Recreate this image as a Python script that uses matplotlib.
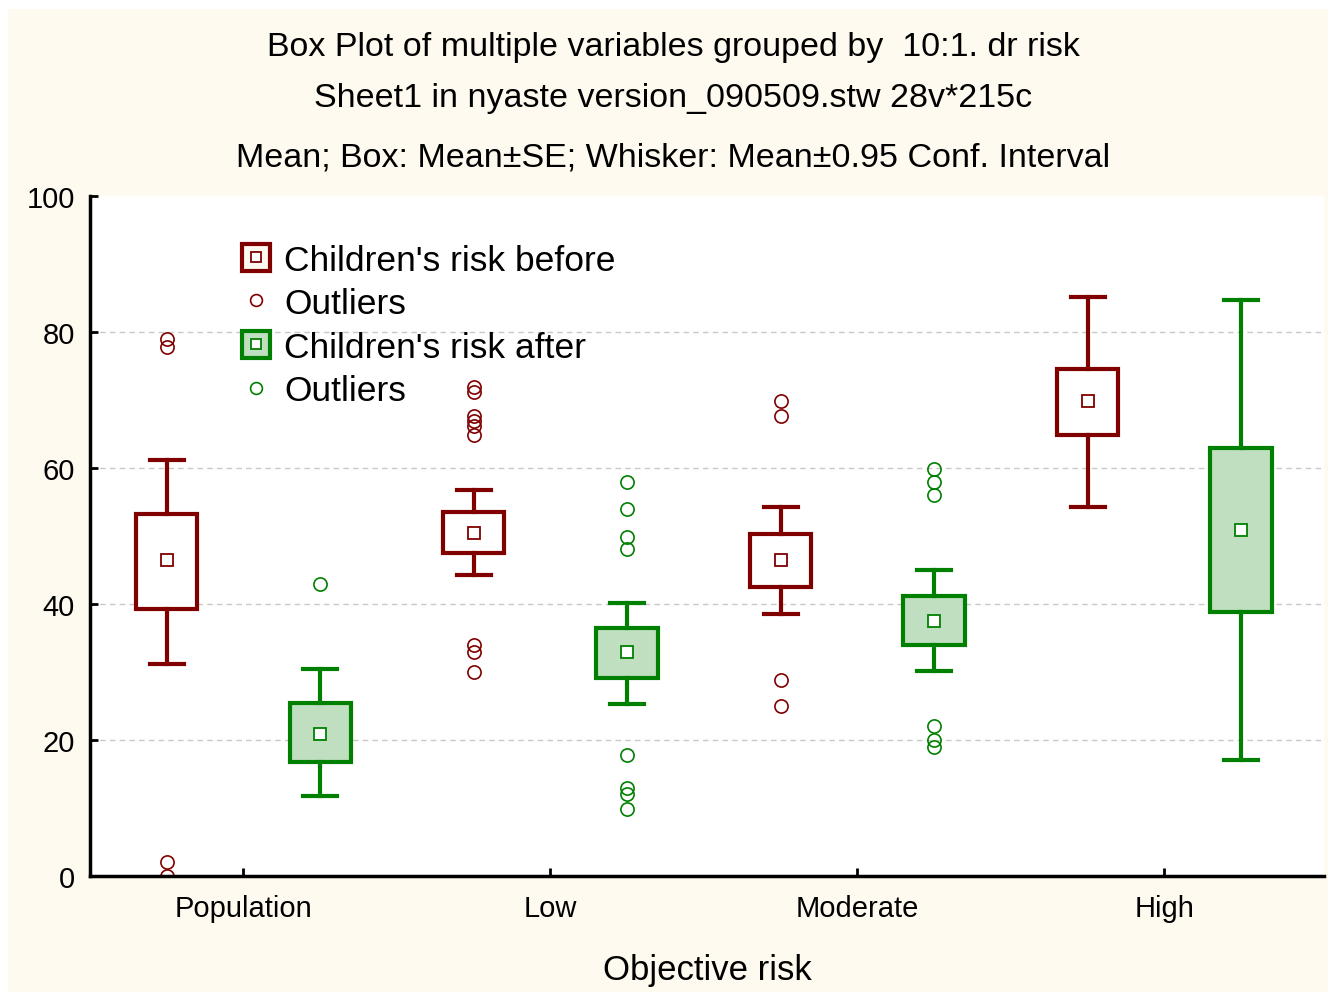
import matplotlib
matplotlib.use("Agg")
import matplotlib.pyplot as plt
from matplotlib.patches import Rectangle, Patch
from matplotlib.lines import Line2D
from matplotlib.legend_handler import HandlerTuple

# ---------------- data ----------------
categories = ["Population", "Low", "Moderate", "High"]

before_mean = [46.4, 50.5, 46.4, 69.8]
before_se_lo = [39.2, 47.5, 42.5, 64.9]
before_se_hi = [53.3, 53.6, 50.3, 74.6]
before_ci_lo = [31.2, 44.3, 38.5, 54.2]
before_ci_hi = [61.2, 56.7, 54.3, 85.1]
before_outliers = [
    [79.0, 77.8, 2.1, 0.0],
    [71.9, 71.2, 67.6, 66.9, 66.2, 64.9, 33.9, 33.0, 30.0],
    [69.8, 67.7, 28.8, 25.0],
    [],
]

after_mean = [20.9, 33.0, 37.5, 50.9]
after_se_lo = [16.7, 29.1, 34.0, 38.8]
after_se_hi = [25.4, 36.5, 41.2, 63.0]
after_ci_lo = [11.7, 25.3, 30.1, 17.1]
after_ci_hi = [30.4, 40.2, 45.0, 84.7]
after_outliers = [
    [43.0],
    [58.0, 53.9, 49.8, 48.1, 17.8, 13.0, 12.1, 9.9],
    [59.9, 58.0, 56.0, 22.1, 20.0, 19.0],
    [],
]

yticks = [0, 20, 40, 60, 80, 100]

title_lines = [
    "Box Plot of multiple variables grouped by  10:1. dr risk",
    "Sheet1 in nyaste version_090509.stw 28v*215c",
    "Mean; Box: Mean\u00b1SE; Whisker: Mean\u00b10.95 Conf. Interval",
]
series_labels = ["Children's risk before", "Outliers", "Children's risk after", "Outliers"]
xlabel = "Objective risk"

# ---------------- style ----------------
RED = "#800000"
GREEN = "#008000"
GREEN_FILL = "#c0dfc0"
CREAM = "#fefaef"
FONT = ["Liberation Sans", "DejaVu Sans"]
plt.rcParams["font.family"] = FONT

W, H = 1328, 995
fig = plt.figure(figsize=(W / 100, H / 100), dpi=100, facecolor="white")
fig.patches.append(Rectangle((8 / W, 2 / H), (W - 8) / W, (H - 12) / H,
                             transform=fig.transFigure, facecolor=CREAM,
                             edgecolor="none", zorder=-10))

ax = fig.add_axes([90 / W, (H - 877) / H, (1324 - 90) / W, (877 - 197) / H])
ax.set_facecolor("white")


def stats(mean, lo, hi, clo, chi, outl):
    out = []
    for m, a, b, c, d, f in zip(mean, lo, hi, clo, chi, outl):
        out.append(dict(med=m, mean=m, q1=a, q3=b, whislo=c, whishi=d, fliers=f))
    return out


def draw(st, positions, color, face):
    ax.bxp(st, positions=positions, widths=0.2, capwidths=0.11,
           patch_artist=True, showmeans=True, manage_ticks=False,
           boxprops=dict(facecolor=face, edgecolor=color, linewidth=3),
           whiskerprops=dict(color=color, linewidth=3),
           capprops=dict(color=color, linewidth=3),
           medianprops=dict(linewidth=0, color="none"),
           meanprops=dict(marker="s", markersize=8, markerfacecolor="white",
                          markeredgecolor=color, markeredgewidth=1.3),
           flierprops=dict(marker="o", markersize=9.5, markerfacecolor="none",
                           markeredgecolor=color, markeredgewidth=1.2,
                           linestyle="none"))


idx = list(range(len(categories)))
draw(stats(before_mean, before_se_lo, before_se_hi, before_ci_lo, before_ci_hi,
           before_outliers), [i - 0.25 for i in idx], RED, "white")
draw(stats(after_mean, after_se_lo, after_se_hi, after_ci_lo, after_ci_hi,
           after_outliers), [i + 0.25 for i in idx], GREEN, GREEN_FILL)

ax.set_xlim(-0.5, 3.52)
ax.set_ylim(0, 100)
ax.set_xticks(idx)
ax.set_xticklabels(categories)
ax.set_yticks(yticks)
ax.tick_params(axis="both", direction="in", length=6, width=2, colors="black",
               labelsize=21)
ax.tick_params(axis="x", pad=13)
ax.tick_params(axis="y", pad=11)
for s in ["top", "right"]:
    ax.spines[s].set_visible(False)
for s in ["left", "bottom"]:
    ax.spines[s].set_linewidth(2.5)
ax.grid(axis="y", linestyle=(0, (4, 3)), color="#c8c8c8", linewidth=1)
ax.set_axisbelow(True)
gl = ax.get_ygridlines()
gl[0].set_visible(False)
gl[-1].set_visible(False)

ax.set_xlabel(xlabel, fontsize=25, labelpad=22)

# titles
for txt, yp in zip(title_lines, [48, 99, 158]):
    fig.text(673 / W, 1 - yp / H, txt, ha="center",
             va="center", fontsize=24.5)

# legend
h_before = (Patch(facecolor=CREAM, edgecolor=RED, linewidth=3),
            Line2D([], [], marker="s", markersize=7, markerfacecolor="white",
                   markeredgecolor=RED, markeredgewidth=1.3, linestyle="none"))
h_out_r = Line2D([], [], marker="o", markersize=8.5, markerfacecolor="none",
                 markeredgecolor=RED, markeredgewidth=1.2, linestyle="none")
h_after = (Patch(facecolor=GREEN_FILL, edgecolor=GREEN, linewidth=3),
           Line2D([], [], marker="s", markersize=7, markerfacecolor="white",
                  markeredgecolor=GREEN, markeredgewidth=1.3, linestyle="none"))
h_out_g = Line2D([], [], marker="o", markersize=8.5, markerfacecolor="none",
                 markeredgecolor=GREEN, markeredgewidth=1.2, linestyle="none")
ax.legend([h_before, h_out_r, h_after, h_out_g], series_labels,
          handler_map={tuple: HandlerTuple(ndivide=1)},
          loc="upper left", bbox_to_anchor=(0.123, 0.93), frameon=False,
          fontsize=25.5, borderpad=0, borderaxespad=0, handlelength=0.8,
          handleheight=0.8, handletextpad=0.4, labelspacing=0.3)

fig.savefig("out.png", dpi=100, facecolor=fig.get_facecolor())
